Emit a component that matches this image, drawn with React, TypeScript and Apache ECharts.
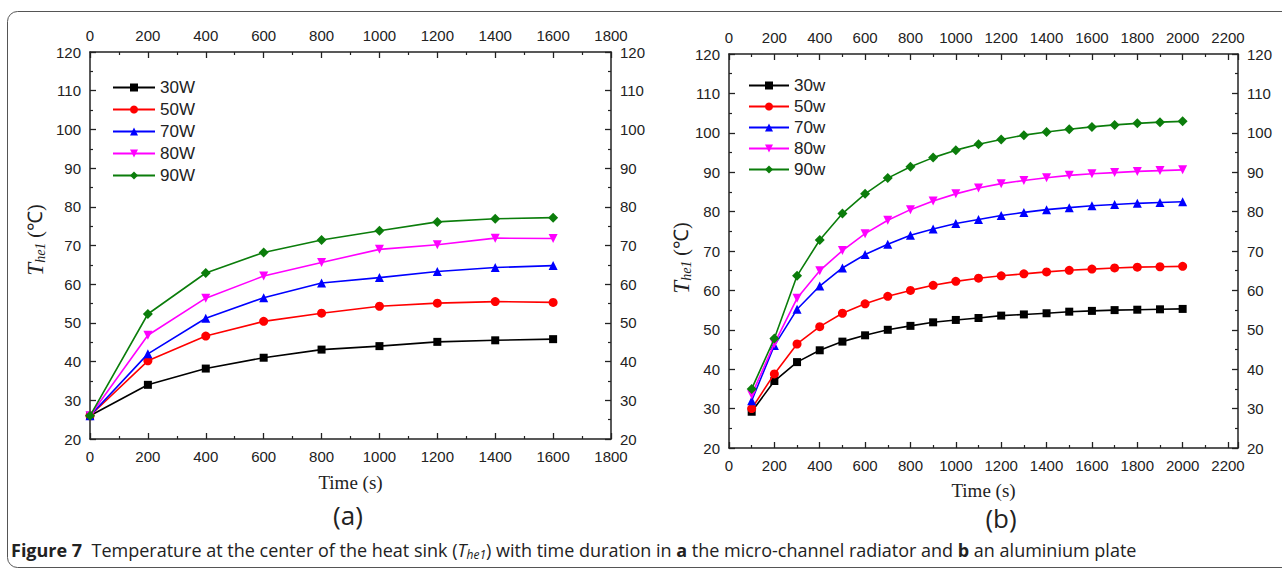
import React, { useEffect, useRef } from "react";
import * as echarts from "echarts";

const timesA = [0, 200, 400, 600, 800, 1000, 1200, 1400, 1600];
const namesA = ["30W", "50W", "70W", "80W", "90W"];
const a30 = [26, 34, 38.2, 41, 43.1, 44, 45.1, 45.5, 45.8];
const a50 = [26, 40.2, 46.6, 50.4, 52.5, 54.3, 55.1, 55.5, 55.3];
const a70 = [26, 42, 51.2, 56.5, 60.3, 61.7, 63.3, 64.3, 64.8];
const a80 = [26, 46.8, 56.4, 62.1, 65.6, 69, 70.2, 71.9, 71.8];
const a90 = [26, 52.3, 62.9, 68.2, 71.4, 73.8, 76.1, 76.9, 77.2];

const timesB = [100, 200, 300, 400, 500, 600, 700, 800, 900, 1000, 1100, 1200, 1300, 1400, 1500, 1600, 1700, 1800, 1900, 2000];
const namesB = ["30w", "50w", "70w", "80w", "90w"];
const b30 = [29.2, 37, 41.8, 44.8, 47, 48.6, 50, 51, 51.9, 52.5, 53, 53.6, 53.9, 54.2, 54.6, 54.8, 55, 55.1, 55.2, 55.3];
const b50 = [30, 38.8, 46.4, 50.8, 54.2, 56.6, 58.5, 60, 61.3, 62.3, 63.1, 63.7, 64.2, 64.7, 65.1, 65.4, 65.7, 65.9, 66, 66.1];
const b70 = [32, 46, 55.2, 61.1, 65.7, 69.1, 71.7, 74, 75.6, 77, 78, 79, 79.8, 80.5, 81, 81.5, 81.8, 82.1, 82.3, 82.5];
const b80 = [33.5, 46.5, 58, 65, 70.1, 74.4, 77.8, 80.5, 82.7, 84.5, 86, 87.1, 87.9, 88.6, 89.2, 89.6, 89.9, 90.2, 90.4, 90.6];
const b90 = [35, 47.8, 63.7, 72.8, 79.5, 84.5, 88.5, 91.4, 93.7, 95.6, 97.1, 98.3, 99.4, 100.2, 100.9, 101.5, 102, 102.4, 102.7, 102.9];

const colors = ["#000000", "#ff0000", "#0000ff", "#ff00ff", "#0b7d0b"];
const symbols = ["rect", "circle", "triangle", "path://M0,0 L10,0 L5,9 Z", "diamond"];
const symbolSizes = [8, 9, 9, 9, 10];

export default function App() {
  const ref = useRef<HTMLDivElement>(null);
  useEffect(() => {
    if (!ref.current) return;
    const chart = echarts.init(ref.current, undefined, { renderer: "svg" });
    const tickFont = { fontFamily: "Liberation Sans", fontSize: 15, color: "#222" };
    const axisLine = { show: true, onZero: false, lineStyle: { color: "#222", width: 1.5 } };
    const fmt = (v: number) => (v % 200 === 0 ? String(v) : "");
    const mkX = (gridIndex: number, pos: string, max: number, withName: boolean, nameGap: number) => ({
      type: "value",
      gridIndex,
      position: pos,
      min: 0,
      max,
      interval: 200,
      axisLine,
      axisTick: { show: true, inside: true, length: 6, lineStyle: { color: "#222", width: 1.3 } },
      minorTick: { show: true, splitNumber: 2, length: 3, lineStyle: { color: "#222", width: 1.2 } },
      splitLine: { show: false },
      axisLabel: { ...tickFont, margin: pos === "top" ? 9 : 10, formatter: fmt, showMaxLabel: true, showMinLabel: true },
      name: withName ? "Time (s)" : "",
      nameLocation: "middle",
      nameGap,
      nameTextStyle: { fontFamily: "Liberation Serif", fontSize: 19, color: "#222" },
    });
    const mkY = (gridIndex: number, pos: string) => ({
      type: "value",
      gridIndex,
      position: pos,
      min: 20,
      max: 120,
      interval: 10,
      axisLine,
      axisTick: { show: true, inside: true, length: 6, lineStyle: { color: "#222", width: 1.3 } },
      minorTick: { show: true, splitNumber: 2, length: 3, lineStyle: { color: "#222", width: 1.2 } },
      splitLine: { show: false },
      axisLabel: { ...tickFont, margin: pos === "left" ? 9 : 9 },
    });
    const dataA = [a30, a50, a70, a80, a90];
    const dataB = [b30, b50, b70, b80, b90];
    const series: any[] = [];
    dataA.forEach((arr, i) => {
      series.push({
        name: namesA[i],
        type: "line",
        xAxisIndex: 0,
        yAxisIndex: 0,
        data: timesA.map((t, j) => [t, arr[j]]),
        symbol: symbols[i],
        symbolSize: symbolSizes[i],
        itemStyle: { color: colors[i] },
        lineStyle: { color: colors[i], width: 1.6 },
        z: 2 + i,
      });
    });
    dataB.forEach((arr, i) => {
      series.push({
        name: namesB[i],
        type: "line",
        xAxisIndex: 2,
        yAxisIndex: 2,
        data: timesB.map((t, j) => [t, arr[j]]),
        symbol: symbols[i],
        symbolSize: symbolSizes[i],
        itemStyle: { color: colors[i] },
        lineStyle: { color: colors[i], width: 1.6 },
        z: 2 + i,
      });
    });
    const legendText = { fontFamily: "Liberation Sans", fontSize: 17, color: "#222" };
    const yTitle = (x: number, y: number) => ({
      type: "text",
      x,
      y,
      rotation: Math.PI / 2,
      style: {
        text: "{t|T}{s|he1} {p|(℃)}",
        align: "center",
        verticalAlign: "middle",
        rich: {
          t: { fontFamily: "Liberation Serif", fontStyle: "italic", fontSize: 23, fill: "#222" },
          s: { fontFamily: "Liberation Serif", fontStyle: "italic", fontSize: 14, fill: "#222", padding: [10, 0, 0, 0] },
          p: { fontFamily: "Liberation Serif", fontSize: 20, fill: "#222" },
        },
        fontFamily: "Liberation Serif",
        fontSize: 20,
        fill: "#222",
      },
    });
    chart.setOption({
      animation: false,
      backgroundColor: "#ffffff",
      grid: [
        { left: 90, top: 52, width: 521, height: 387, containLabel: false },
        { left: 729, top: 54, width: 509, height: 394, containLabel: false },
      ],
      xAxis: [
        mkX(0, "bottom", 1800, true, 34),
        mkX(0, "top", 1800, false, 0),
        mkX(1, "bottom", 2244, true, 33),
        mkX(1, "top", 2244, false, 0),
      ],
      yAxis: [mkY(0, "left"), mkY(0, "right"), mkY(1, "left"), mkY(1, "right")],
      legend: [
        {
          data: namesA,
          orient: "vertical",
          left: 107,
          top: 74,
          itemWidth: 42,
          itemHeight: 10,
          itemGap: 5,
          textStyle: legendText,
        },
        {
          data: namesB,
          orient: "vertical",
          left: 743,
          top: 72,
          itemWidth: 40,
          itemHeight: 10,
          itemGap: 4,
          textStyle: legendText,
        },
      ],
      series,
      graphic: [
        {
          type: "rect",
          shape: { x: 7.5, y: 11.5, width: 1300, height: 556, r: 10 },
          style: { fill: "none", stroke: "#555", lineWidth: 1 },
          silent: true,
        },
        yTitle(35, 240),
        yTitle(681, 258),
        {
          type: "text",
          x: 348,
          y: 515,
          style: { text: "(a)", align: "center", verticalAlign: "middle", fontFamily: "Open Sans", fontSize: 26, fill: "#222" },
        },
        {
          type: "text",
          x: 1001,
          y: 518,
          style: { text: "(b)", align: "center", verticalAlign: "middle", fontFamily: "Open Sans", fontSize: 26, fill: "#222" },
        },
        {
          type: "text",
          x: 11,
          y: 550,
          style: {
            text: "{b|Figure 7}  Temperature at the center of the heat sink ({i|T}{sub|he1}) with time duration in {b|a} the micro-channel radiator and {b|b} an aluminium plate",
            verticalAlign: "middle",
            fontFamily: "Open Sans",
            fontSize: 18,
            fill: "#222",
            rich: {
              b: { fontFamily: "Open Sans", fontWeight: "bold", fontSize: 18, fill: "#222" },
              i: { fontFamily: "Open Sans", fontStyle: "italic", fontSize: 18, fill: "#222" },
              sub: { fontFamily: "Open Sans", fontStyle: "italic", fontSize: 12, fill: "#222", padding: [9, 0, 0, 0] },
            },
          },
        },
      ],
    });
    return () => chart.dispose();
  }, []);
  return (
    <div
      ref={ref}
      style={{ position: "fixed", left: 0, top: 0, width: 1282, height: 571, background: "#fff" }}
    />
  );
}
